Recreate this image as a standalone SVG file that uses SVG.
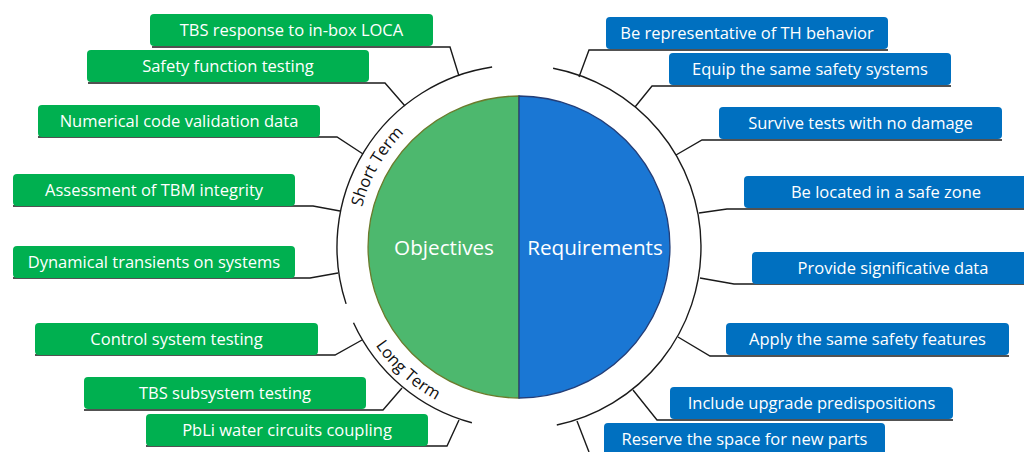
<svg xmlns="http://www.w3.org/2000/svg" width="1024" height="452" viewBox="0 0 1024 452">
<style>
.gb{fill:#00B050}
.bb{fill:#0070C0}
.lbl{font-family:"Open Sans","Liberation Sans",sans-serif;font-size:16.5px;fill:#ffffff;text-anchor:middle}
.big{font-family:"Open Sans","Liberation Sans",sans-serif;font-size:20.7px;fill:#ffffff;text-anchor:middle}
.arcl{font-family:"Open Sans","Liberation Sans",sans-serif;font-size:16.5px;fill:#111111;text-anchor:middle}
.ln{fill:none;stroke:#1a1a1a;stroke-width:1.4}
</style>
<defs>
<path id="stp" d="M359.7,276.5 A162 162 0 0 1 462.3,95.3"/>
<path id="ltp" d="M349.5,286.1 A174 174 0 0 0 497.8,419.7"/>
</defs>
<rect width="1024" height="452" fill="#ffffff"/>
<g id="hub">
<path d="M519,96 A151 151 0 0 0 519,398 Z" fill="#4DB86E" stroke="#6B7B2C" stroke-width="1.3"/>
<path d="M519,96 A151 151 0 0 1 519,398 Z" fill="#1A77D4" stroke="#233E78" stroke-width="1.3"/>
<text class="big" x="444" y="254.5">Objectives</text>
<text class="big" x="595" y="254.5">Requirements</text>
</g>
<g id="arcs">
<path class="ln" d="M346.1,303.9 A182 182 0 0 1 492.1,67"/>
<path class="ln" d="M353.5,322.8 A182 182 0 0 0 471.9,422.8"/>
<path class="ln" d="M553.1,68.2 A182 182 0 0 1 556.8,425"/>
<text class="arcl"><textPath href="#stp" startOffset="50%">Short Term</textPath></text>
<text class="arcl"><textPath href="#ltp" startOffset="50%">Long  Term</textPath></text>
</g>
<g id="connectors">
<path class="ln" d="M152,47 H450 L459,76"/>
<path class="ln" d="M88,83 H385 L405,106"/>
<path class="ln" d="M38,137 H337 L363,154"/>
<path class="ln" d="M13,206 H313 L340,211"/>
<path class="ln" d="M13,278 H310 L338,273"/>
<path class="ln" d="M35,355 H335 L362,340"/>
<path class="ln" d="M84,410 H383 L402,388"/>
<path class="ln" d="M146,446 H447 L459,420"/>
<path class="ln" d="M888,50 H589 L579,77"/>
<path class="ln" d="M951,86 H652 L635,107"/>
<path class="ln" d="M1002,140 H702 L676,155"/>
<path class="ln" d="M1024,209 H727 L699,213"/>
<path class="ln" d="M1024,284 H734 L700,278"/>
<path class="ln" d="M1009,356 H710 L678,337"/>
<path class="ln" d="M953,420 H657 L633,390"/>
<path class="ln" d="M577,421 L589,452"/>
</g>
<g id="obj1"><rect class="gb" x="150" y="14" width="283" height="32" rx="4"/><text class="lbl" x="291.5" y="36">TBS response to in-box LOCA</text></g>
<g id="obj2"><rect class="gb" x="87" y="50" width="282" height="32" rx="4"/><text class="lbl" x="228" y="72">Safety function testing</text></g>
<g id="obj3"><rect class="gb" x="38" y="105" width="282" height="32" rx="4"/><text class="lbl" x="179" y="127">Numerical code validation data</text></g>
<g id="obj4"><rect class="gb" x="13" y="174" width="282" height="32" rx="4"/><text class="lbl" x="154" y="196">Assessment of TBM integrity</text></g>
<g id="obj5"><rect class="gb" x="13" y="246" width="282" height="32" rx="4"/><text class="lbl" x="154" y="268">Dynamical transients on systems</text></g>
<g id="obj6"><rect class="gb" x="35" y="323" width="283" height="32" rx="4"/><text class="lbl" x="176.5" y="345">Control system testing</text></g>
<g id="obj7"><rect class="gb" x="84" y="377" width="282" height="32" rx="4"/><text class="lbl" x="225" y="399">TBS subsystem testing</text></g>
<g id="obj8"><rect class="gb" x="146" y="414" width="282" height="32" rx="4"/><text class="lbl" x="287" y="436">PbLi water circuits coupling</text></g>
<g id="req1"><rect class="bb" x="606" y="17" width="282" height="32" rx="4"/><text class="lbl" x="747" y="39">Be representative of TH behavior</text></g>
<g id="req2"><rect class="bb" x="669" y="53" width="282" height="32" rx="4"/><text class="lbl" x="810" y="75">Equip the same safety systems</text></g>
<g id="req3"><rect class="bb" x="719" y="107" width="283" height="32" rx="4"/><text class="lbl" x="860.5" y="129">Survive tests with no damage</text></g>
<g id="req4"><rect class="bb" x="744" y="176" width="284" height="32" rx="4"/><text class="lbl" x="886" y="198">Be located in a safe zone</text></g>
<g id="req5"><rect class="bb" x="752" y="252" width="284" height="32" rx="4"/><text class="lbl" x="893" y="274">Provide significative data</text></g>
<g id="req6"><rect class="bb" x="726" y="323" width="283" height="32" rx="4"/><text class="lbl" x="867.5" y="345">Apply the same safety features</text></g>
<g id="req7"><rect class="bb" x="670" y="387" width="283" height="32" rx="4"/><text class="lbl" x="811.5" y="409">Include upgrade predispositions</text></g>
<g id="req8"><rect class="bb" x="604" y="423" width="281" height="32" rx="4"/><text class="lbl" x="744.5" y="445">Reserve the space for new parts</text></g>
</svg>
